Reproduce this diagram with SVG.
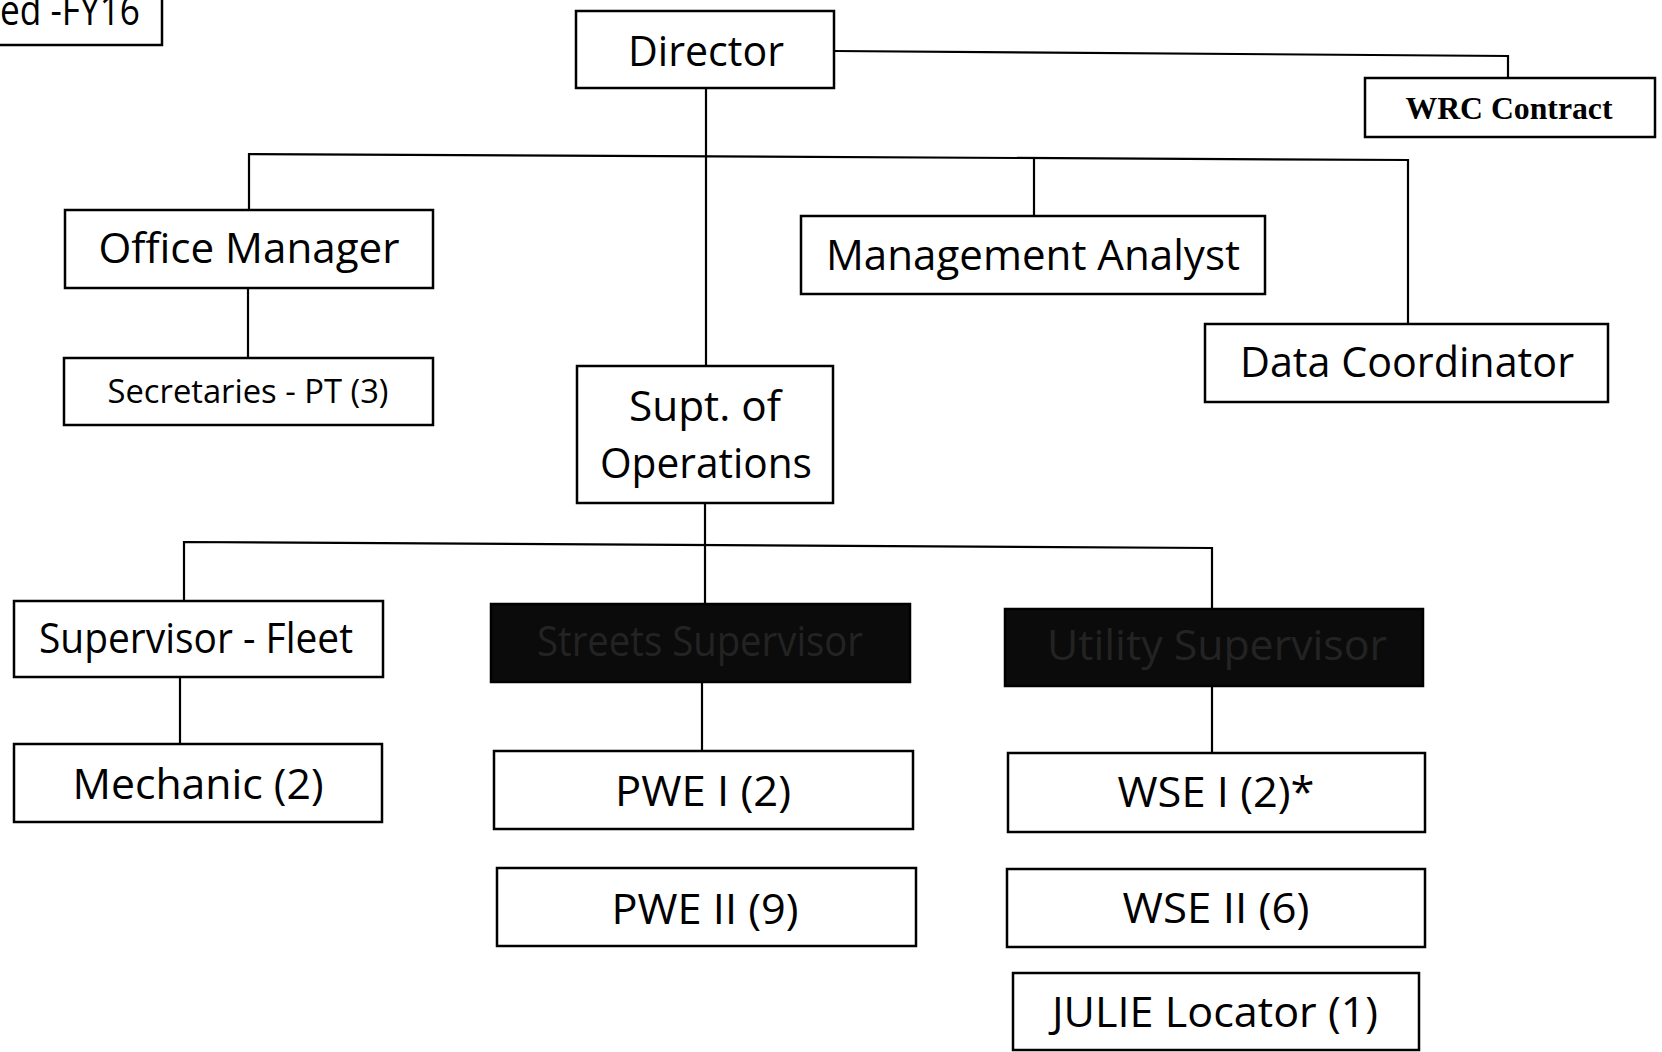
<svg xmlns="http://www.w3.org/2000/svg" width="1662" height="1052" viewBox="0 0 1662 1052">
  <style>
    .box { fill: #ffffff; stroke: #000000; stroke-width: 2.5; }
    .dark { fill: #0b0b0b; stroke: #000000; stroke-width: 2.5; }
    .lbl { font-family: "Open Sans", "Liberation Sans", sans-serif; font-size: 42px; fill: #000000; text-anchor: middle; }
    .small { font-size: 33px; }
    .ghost { fill: #5a5a5a; opacity: 0.3; }
    .serif { font-family: "Liberation Serif", "Times New Roman", serif; font-weight: bold; font-size: 32px; }
    .wire { fill: none; stroke: #000000; stroke-width: 2.2; }
  </style>

  <rect width="1662" height="1052" fill="#ffffff"/>

  <!-- connectors -->
  <g id="connectors" class="wire">
    <polyline points="834,51 1508,56 1508,78"/>
    <line x1="706" y1="88" x2="706" y2="366"/>
    <polyline points="249,210 249,154 1408,160 1408,324"/>
    <line x1="1034" y1="157" x2="1034" y2="216"/>
    <line x1="248" y1="288" x2="248" y2="358"/>
    <line x1="705" y1="503" x2="705" y2="605"/>
    <polyline points="184,601 184,542 1212,548 1212,609"/>
    <line x1="180" y1="677" x2="180" y2="744"/>
    <line x1="702" y1="682" x2="702" y2="751"/>
    <line x1="1212" y1="686" x2="1212" y2="753"/>
  </g>

  <!-- header tag, cut at the page edge -->
  <g id="header">
    <rect class="box" x="-10" y="-10" width="172" height="55"/>
    <text class="lbl" x="70" y="25" font-size="36" textLength="140" lengthAdjust="spacingAndGlyphs">ed -FY16</text>
  </g>

  <g id="director">
    <rect class="box" x="576" y="11" width="258" height="77"/>
    <text class="lbl" x="706" y="66" font-size="45" textLength="156" lengthAdjust="spacingAndGlyphs">Director</text>
  </g>

  <g id="wrc-contract">
    <rect class="box" x="1365" y="78" width="290" height="59"/>
    <text class="lbl serif" x="1509" y="119" textLength="207" lengthAdjust="spacingAndGlyphs">WRC Contract</text>
  </g>

  <g id="office-manager">
    <rect class="box" x="65" y="210" width="368" height="78"/>
    <text class="lbl" x="249" y="263" textLength="301" lengthAdjust="spacingAndGlyphs">Office Manager</text>
  </g>

  <g id="secretaries">
    <rect class="box" x="64" y="358" width="369" height="67"/>
    <text class="lbl small" x="248" y="403" textLength="281" lengthAdjust="spacingAndGlyphs">Secretaries - PT (3)</text>
  </g>

  <g id="management-analyst">
    <rect class="box" x="801" y="216" width="464" height="78"/>
    <text class="lbl" x="1033" y="270" textLength="414" lengthAdjust="spacingAndGlyphs">Management Analyst</text>
  </g>

  <g id="data-coordinator">
    <rect class="box" x="1205" y="324" width="403" height="78"/>
    <text class="lbl" x="1407" y="377" textLength="334" lengthAdjust="spacingAndGlyphs">Data Coordinator</text>
  </g>

  <g id="supt-operations">
    <rect class="box" x="577" y="366" width="256" height="137"/>
    <text class="lbl" x="705" y="421" font-size="40" textLength="152" lengthAdjust="spacingAndGlyphs">Supt. of</text>
    <text class="lbl" x="706" y="478" font-size="40" textLength="212" lengthAdjust="spacingAndGlyphs">Operations</text>
  </g>

  <g id="supervisor-fleet">
    <rect class="box" x="14" y="601" width="369" height="76"/>
    <text class="lbl" x="196" y="653" textLength="314" lengthAdjust="spacingAndGlyphs">Supervisor - Fleet</text>
  </g>

  <g id="mechanic">
    <rect class="box" x="14" y="744" width="368" height="78"/>
    <text class="lbl" x="198" y="799" textLength="251" lengthAdjust="spacingAndGlyphs">Mechanic (2)</text>
  </g>

  <g id="streets-supervisor">
    <rect class="dark" x="491" y="604" width="419" height="78"/>
    <text class="lbl ghost" x="700" y="656" textLength="326" lengthAdjust="spacingAndGlyphs">Streets Supervisor</text>
  </g>

  <g id="pwe-1">
    <rect class="box" x="494" y="751" width="419" height="78"/>
    <text class="lbl" x="703" y="806" textLength="176" lengthAdjust="spacingAndGlyphs">PWE I (2)</text>
  </g>

  <g id="pwe-2">
    <rect class="box" x="497" y="868" width="419" height="78"/>
    <text class="lbl" x="705" y="924" textLength="187" lengthAdjust="spacingAndGlyphs">PWE II (9)</text>
  </g>

  <g id="utility-supervisor">
    <rect class="dark" x="1005" y="609" width="418" height="77"/>
    <text class="lbl ghost" x="1217" y="660" textLength="340" lengthAdjust="spacingAndGlyphs">Utility Supervisor</text>
  </g>

  <g id="wse-1">
    <rect class="box" x="1008" y="753" width="417" height="79"/>
    <text class="lbl" x="1216" y="807" textLength="197" lengthAdjust="spacingAndGlyphs">WSE I (2)*</text>
  </g>

  <g id="wse-2">
    <rect class="box" x="1007" y="869" width="418" height="78"/>
    <text class="lbl" x="1216" y="923" textLength="187" lengthAdjust="spacingAndGlyphs">WSE II (6)</text>
  </g>

  <g id="julie-locator">
    <rect class="box" x="1013" y="973" width="406" height="77"/>
    <text class="lbl" x="1215" y="1027" textLength="326" lengthAdjust="spacingAndGlyphs">JULIE Locator (1)</text>
  </g>
</svg>
